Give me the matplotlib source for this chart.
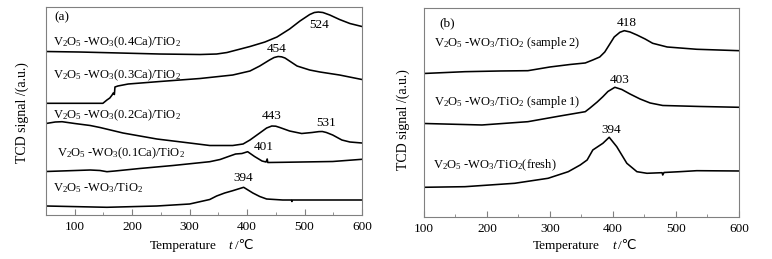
import matplotlib
matplotlib.use("Agg")
import matplotlib.pyplot as plt
from matplotlib.ticker import MultipleLocator

plt.rcParams['font.family'] = ['Liberation Serif', 'DejaVu Sans']
plt.rcParams['mathtext.fontset'] = 'custom'
plt.rcParams['mathtext.rm'] = 'Liberation Serif'
plt.rcParams['mathtext.it'] = 'Liberation Serif:italic'
plt.rcParams['font.size'] = 9

# ---- panel (a): Ca-doped catalysts ----
t_04 = [50, 109, 179, 248, 318, 347, 365, 385, 405, 431, 452, 474, 492, 509, 517, 524, 532, 544, 561, 579, 600]
s_04 = [163.5, 163, 162, 161, 160.5, 161, 162.5, 165.5, 168.5, 173, 178, 186, 194, 200.5, 202.5, 203, 202.5, 200, 195.5, 191.5, 188.5]

t_03 = [50, 109, 149, 156, 161, 165, 167, 169, 170, 175, 193, 248, 318, 375, 405, 422, 439, 447, 454, 460, 466, 487, 509, 527, 561, 600]
s_03 = [111.7, 111.7, 111.7, 115, 117, 120, 122, 120.5, 128, 129, 131, 133.5, 136.5, 140, 144, 149, 155, 157.5, 158.5, 158.2, 157, 149, 145, 143, 140, 135.5]

t_02 = [50, 66, 78, 100, 127, 144, 184, 243, 300, 335, 375, 393, 405, 422, 434, 443, 450, 457, 474, 495, 513, 525, 531, 538, 549, 565, 579, 600]
s_02 = [91.5, 93, 93.3, 91.5, 89.5, 87.5, 82, 76, 72, 69.5, 69.5, 71, 75, 82, 87, 89, 88.8, 87.5, 84, 81.5, 82.5, 83.4, 83.5, 82.5, 80, 75, 73, 72]

t_01 = [50, 127, 144, 156, 170, 213, 271, 335, 353, 370, 380, 391, 401, 413, 426, 433, 435, 436, 462, 549, 600]
s_01 = [43.5, 45, 44.5, 43.3, 44, 46.5, 49.5, 53.3, 55.5, 59, 61, 61.5, 63.3, 58.5, 54, 53, 56, 52.5, 52.7, 53.5, 55.7]

t_00 = [50, 156, 243, 300, 335, 347, 361, 375, 394, 410, 422, 434, 462, 477, 478, 479, 600]
s_00 = [9, 7.7, 9, 11, 15.5, 19, 22, 24.3, 27.7, 22, 18.5, 16, 15, 15, 13.5, 15, 15]

labels_a = ['V$_2$O$_5$ -WO$_3$(0.4Ca)/TiO$_2$', 'V$_2$O$_5$ -WO$_3$(0.3Ca)/TiO$_2$',
            'V$_2$O$_5$ -WO$_3$(0.2Ca)/TiO$_2$', 'V$_2$O$_5$ -WO$_3$(0.1Ca)/TiO$_2$',
            'V$_2$O$_5$ -WO$_3$/TiO$_2$']
peaks_a = [524, 454, 443, 531, 401, 394]

# ---- panel (b): fresh and used samples ----
t_s2 = [100, 165, 221, 265, 300, 332, 356, 368, 379, 387, 395, 402, 411, 418, 427, 438, 451, 463, 486, 533, 600]
s_s2 = [143.5, 145.3, 146, 146.3, 150, 152.5, 154, 157, 160, 165, 173, 180, 184.7, 186.3, 185, 182, 178, 173.7, 170, 167.7, 166.3]

t_s1 = [100, 192, 265, 316, 356, 363, 375, 384, 392, 403, 414, 427, 443, 459, 479, 538, 600]
s_s1 = [93.5, 92, 95.3, 101, 105.3, 108.7, 115, 120.3, 125.5, 129.7, 127.5, 123, 118, 114, 111.5, 110.5, 109.7]

t_fr = [100, 165, 244, 297, 329, 348, 359, 368, 384, 394, 406, 422, 438, 454, 478, 479, 481, 506, 533, 600]
s_fr = [29.7, 30.3, 33.7, 38.7, 45.3, 52, 57, 67, 73.7, 79.7, 70.3, 53.7, 45.3, 43.7, 44.3, 42, 44.5, 45.3, 46.3, 46]

labels_b = ['V$_2$O$_5$ -WO$_3$/TiO$_2$ (sample 2)', 'V$_2$O$_5$ -WO$_3$/TiO$_2$ (sample 1)',
            'V$_2$O$_5$ -WO$_3$/TiO$_2$(fresh)']
peaks_b = [418, 403, 394]

fig = plt.figure(figsize=(7.72, 2.59), dpi=100)
ax1 = fig.add_axes([0.0596, 0.1699, 0.4093, 0.803])
ax2 = fig.add_axes([0.5492, 0.1622, 0.408, 0.807])

for t, s in [(t_04, s_04), (t_03, s_03), (t_02, s_02), (t_01, s_01), (t_00, s_00)]:
    ax1.plot(t, s, color='black', lw=1.15)
for t, s in [(t_s2, s_s2), (t_s1, s_s1), (t_fr, s_fr)]:
    ax2.plot(t, s, color='black', lw=1.15)

ax1.set_xlim(50, 600)
ax1.set_ylim(0, 208)
ax2.set_xlim(100, 600)
ax2.set_ylim(0, 209)

for ax in (ax1, ax2):
    ax.xaxis.set_major_locator(MultipleLocator(100))
    ax.xaxis.set_minor_locator(MultipleLocator(50))
    ax.set_yticks([])
    ax.tick_params(axis='x', which='both', direction='in', color='#808080', pad=4, labelsize=9.5)
    ax.tick_params(axis='x', which='major', length=4)
    ax.tick_params(axis='x', which='minor', length=2.5)
    for sp in ax.spines.values():
        sp.set_color('#808080')
        sp.set_linewidth(0.8)

# curve labels
ax1.text(65, 198, '(a)', va='center', fontsize=9.5)
for lab, (x, y) in zip(labels_a, [(62, 173), (62, 140), (62, 100), (69, 62), (62, 27)]):
    ax1.text(x, y, lab, va='center', fontsize=9)
for p, (x, y) in zip(peaks_a, [(525, 190), (452, 166), (443, 99), (537, 92), (429, 68), (394, 37)]):
    ax1.text(x, y, str(p), ha='center', va='center', fontsize=9.5)

ax2.text(125, 194, '(b)', va='center', fontsize=9.5)
for lab, (x, y) in zip(labels_b, [(116, 174), (116, 115), (114, 52)]):
    ax2.text(x, y, lab, va='center', fontsize=9)
for p, (x, y) in zip(peaks_b, [(422, 194), (411, 137), (397, 87)]):
    ax2.text(x, y, str(p), ha='center', va='center', fontsize=9.5)

# axis titles
yl = 1 - 246 / 259
for x0, xt, xc in [(150, 228, 235), (533, 612, 618)]:
    fig.text(x0 / 772, yl, 'Temperature', va='center', fontsize=9.5)
    fig.text(xt / 772, yl, 't', va='center', fontsize=9.5, style='italic')
    fig.text(xc / 772, yl, '/℃', va='center', fontsize=9.5)
fig.text(22 / 772, 1 - 113 / 259, 'TCD signal /(a.u.)', rotation=90, ha='center', va='center', fontsize=10)
fig.text(403 / 772, 1 - 120 / 259, 'TCD signal /(a.u.)', rotation=90, ha='center', va='center', fontsize=10)

fig.savefig('out.png', dpi=100)
